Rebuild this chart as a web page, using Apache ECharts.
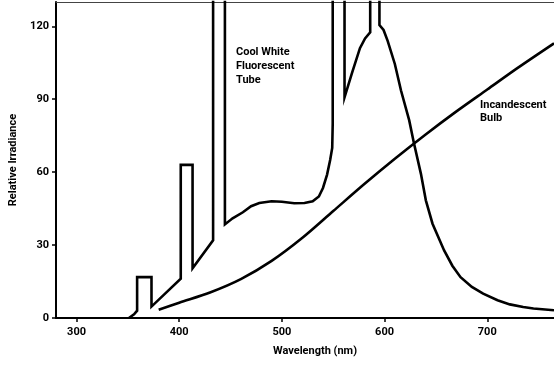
<!DOCTYPE html>
<html>
<head>
<meta charset="utf-8">
<script src="https://cdn.jsdelivr.net/npm/echarts@6/dist/echarts.min.js"></script>
<style>
  html, body { margin: 0; padding: 0; background: #fff; }
  #chart { width: 554px; height: 376px; }
</style>
</head>
<body>
<div id="chart"></div>
<script>
// tick labels
var xTicks = [300, 400, 500, 600, 700];
var yTicks = [0, 30, 60, 90, 120];

// cool white fluorescent tube: [wavelength nm, relative irradiance]
// the narrow mercury lines go off the top of the plot
var fluorescent = [
    [351, 0], [356, 1.5], [359, 3], [359, 16.8], [373, 16.8], [373, 4.7],
    [401.5, 16.2], [401.5, 63], [413, 63], [413, 20.5], [433, 32],
    [433, 170], [444.5, 170], [444.5, 38.5], [452, 41], [462, 43.5],
    [470, 46], [478, 47.3], [490, 48], [500, 47.8], [512, 47.2], [522, 47.3],
    [530, 48], [536, 50], [540, 53.5], [544, 59], [547, 65], [549, 70],
    [549.5, 80], [549.5, 170], [561, 170], [561, 90.8], [568, 100.4],
    [576, 111], [581, 115], [586, 117.5], [586, 170], [595, 170], [595, 120.5],
    [599, 118.5], [603, 114], [610, 104.5], [616, 93.6], [624, 81.3],
    [628.4, 72.3], [635.4, 59.3], [640.2, 48.4], [646.7, 38.8], [658, 27.8],
    [666, 21.5], [674, 16.8], [685, 12.8], [696, 10], [710, 7.3], [722, 5.6],
    [735, 4.5], [745, 3.9], [765, 3.2]
];

// incandescent bulb
var incandescent = [
    [380, 3.4], [400, 6.3], [430, 10.5], [460, 16], [490, 23.5], [520, 33],
    [550, 44], [580, 55], [610, 65.5], [640, 75.5], [670, 85], [700, 94],
    [730, 103], [765, 113]
];

var labelFont = 'Roboto, "DejaVu Sans", sans-serif';
var chart = echarts.init(document.getElementById('chart'));

chart.setOption({
    animation: false,
    grid: { left: 52, right: 0, top: 2, bottom: 58 },
    xAxis: [{
        type: 'value',
        min: 280,
        max: 765,
        name: 'Wavelength (nm)',
        nameLocation: 'middle',
        nameGap: 28,
        nameTextStyle: { color: '#000', fontFamily: labelFont, fontWeight: 'bold', fontSize: 11, padding: [0, 0, 0, 20] },
        splitLine: { show: false },
        axisLine: { lineStyle: { color: '#000', width: 2 } },
        axisTick: { length: 4, customValues: xTicks, lineStyle: { color: '#000', width: 1.5 } },
        axisLabel: { customValues: xTicks, margin: 9, color: '#000', fontFamily: labelFont, fontWeight: 'bold', fontSize: 11 }
    }, {
        // thin frame line along the top
        type: 'value',
        position: 'top',
        min: 280,
        max: 765,
        axisLine: { show: true, lineStyle: { color: '#444', width: 1 } },
        axisTick: { show: false },
        axisLabel: { show: false },
        splitLine: { show: false }
    }],
    yAxis: {
        type: 'value',
        min: 0,
        max: 130,
        name: 'Relative Irradiance',
        nameLocation: 'middle',
        nameGap: 37,
        nameRotate: 90,
        nameTextStyle: { color: '#000', fontFamily: labelFont, fontWeight: 'bold', fontSize: 11 },
        splitLine: { show: false },
        axisLine: { show: true, lineStyle: { color: '#000', width: 2 } },
        axisTick: { show: true, length: 4, customValues: yTicks, lineStyle: { color: '#000', width: 1.5 } },
        axisLabel: { customValues: yTicks, margin: 7, color: '#000', fontFamily: labelFont, fontWeight: 'bold', fontSize: 11 }
    },
    series: [{
        name: 'Cool White Fluorescent Tube',
        type: 'line',
        data: fluorescent,
        showSymbol: false,
        symbol: 'none',
        lineStyle: { color: '#000', width: 2.6, join: 'miter' }
    }, {
        name: 'Incandescent Bulb',
        type: 'line',
        data: incandescent,
        smooth: 0.3,
        showSymbol: false,
        symbol: 'none',
        lineStyle: { color: '#000', width: 2.6 }
    }],
    graphic: [{
        type: 'text',
        left: 236,
        top: 45,
        style: {
            text: 'Cool White\nFluorescent\nTube',
            fill: '#000',
            font: 'bold 11px ' + labelFont,
            lineHeight: 14
        }
    }, {
        type: 'text',
        left: 480,
        top: 99,
        style: {
            text: 'Incandescent\nBulb',
            fill: '#000',
            font: 'bold 11px ' + labelFont,
            lineHeight: 13
        }
    }]
});
</script>
</body>
</html>
